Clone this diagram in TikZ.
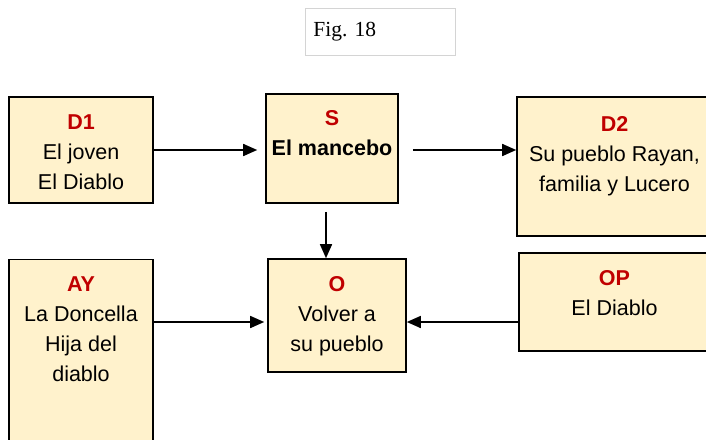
\documentclass[tikz,border=0pt]{standalone}
\usepackage{fontspec}
\setmainfont{Liberation Sans}
\newfontfamily\figfont{Liberation Serif}
\usetikzlibrary{arrows.meta,positioning}
\definecolor{boxfill}{HTML}{FFF2CC}
\definecolor{tagred}{HTML}{C00000}
\definecolor{figgray}{HTML}{D4D4D4}
\newcommand{\acttag}[1]{{\bfseries\color{tagred}#1}}
\tikzset{
    actbox/.style={draw=black, line width=1.6pt, fill=boxfill, inner sep=0pt},
    acttext/.style={align=center, inner sep=0pt, font=\fontsize{21.5}{30}\selectfont},
    arr/.style={-{Triangle[length=14pt,width=12pt]}, line width=1.6pt},
    figbox/.style={draw=figgray, line width=0.8pt, text width=134pt, inner xsep=8pt,
        minimum height=47pt, font=\figfont\fontsize{21.5}{24}\selectfont}
}
\begin{document}
\begin{tikzpicture}[x=1pt, y=-1pt]
        \useasboundingbox (0,0) rectangle (706,439);
        \clip (0,0) rectangle (706,439);

        \node[figbox, anchor=north west] (fig) at (305,8) {Fig.\ 18};

        \node[actbox, minimum width=144pt, minimum height=106pt] (d1) at (81,150) {};
        \node[acttext, below=18pt of d1.north] (d1t) {\acttag{D1}\\El joven\\El Diablo};

        \node[actbox, minimum width=132pt, minimum height=109pt] (s) at (332,148.5) {};
        \node[acttext, below=17pt of s.north] (st) {\acttag{S}\\{\bfseries El mancebo}};

        \node[actbox, minimum width=195pt, minimum height=139pt] (d2) at (614.5,166.5) {};
        \node[acttext, below=20pt of d2.north] (d2t) {\acttag{D2}\\Su pueblo Rayan,\\familia y Lucero};

        \node[actbox, minimum width=144pt, minimum height=211pt] (ay) at (81,365) {};
        \node[acttext, below=18pt of ay.north] (ayt) {\acttag{AY}\\La Doncella\\Hija del\\diablo};

        \node[actbox, minimum width=138pt, minimum height=113pt] (o) at (337,315.5) {};
        \node[acttext, below=18pt of o.north] (ot) {\acttag{O}\\Volver a\\su pueblo};

        \node[actbox, minimum width=191pt, minimum height=98pt] (op) at (614.5,302) {};
        \node[acttext, below=18pt of op.north] (opt) {\acttag{OP}\\El Diablo};

        \draw[arr, shorten >=8pt] (d1.east) -- (d1.east -| s.west);
        \draw[arr, shorten <=14pt] (d1.east -| s.east) -- (d1.east -| d2.west);

        \coordinate (sd) at ([xshift=-6pt]s.south);
        \draw[arr, shorten <=8pt] (sd) -- (sd |- o.north);

        \coordinate (ol) at ([yshift=-6.5pt]o.west);
        \draw[arr, shorten >=3pt] (ay.east |- ol) -- (ol);
        \draw[arr] (op.west |- ol) -- (ol -| o.east);
\end{tikzpicture}
\end{document}
